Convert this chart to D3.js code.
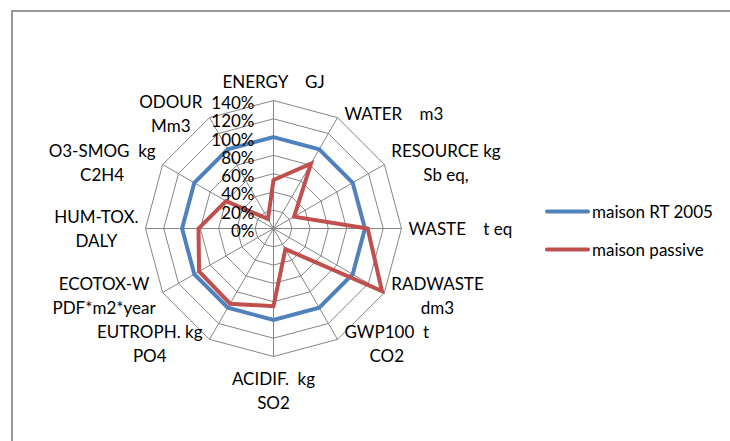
<!DOCTYPE html>
<html>
<head>
<meta charset="utf-8">
<script src="https://cdn.jsdelivr.net/npm/d3@7"></script>
<style>
  html, body { margin: 0; padding: 0; background: #fff; }
  svg text { font-family: Lato, "Open Sans", sans-serif; fill: #000; white-space: pre; }
</style>
</head>
<body>
<div id="chart"></div>
<script>
// axis labels, clockwise from the top (each entry = wrapped lines)
const axes = [
  ["ENERGY    GJ"],
  ["WATER    m3"],
  ["RESOURCE kg", "Sb eq,"],
  ["WASTE    t eq"],
  ["RADWASTE", "dm3"],
  ["GWP100  t", "CO2"],
  ["ACIDIF.  kg", "SO2"],
  ["EUTROPH. kg", "PO4"],
  ["ECOTOX-W", "PDF*m2*year"],
  ["HUM-TOX.", "DALY"],
  ["O3-SMOG  kg", "C2H4"],
  ["ODOUR", "Mm3"]
];
const rt2005 = [1.00, 1.00, 1.00, 1.00, 1.00, 1.00, 1.00, 1.00, 1.00, 1.00, 1.00, 1.00];
const passive = [0.53, 0.82, 0.26, 1.03, 1.37, 0.26, 0.85, 0.95, 0.94, 0.82, 0.60, 0.12];
const ticks = [0, 0.2, 0.4, 0.6, 0.8, 1.0, 1.2, 1.4];
const seriesNames = ["maison RT 2005", "maison passive"];
const seriesColors = ["#4f81bd", "#c0504d"];

const W = 730, H = 441;
const cx = 273.5, cy = 228.5;
const fontSize = 17;
const lineH = 24;

const svg = d3.select("#chart").append("svg")
  .attr("width", W)
  .attr("height", H);

// outer chart frame
svg.append("rect")
  .attr("x", 12).attr("y", 11)
  .attr("width", W).attr("height", H)
  .attr("fill", "#fff")
  .attr("stroke", "#999")
  .attr("stroke-width", 2);

const r = d3.scaleLinear().domain([0, 1.4]).range([0, 128]);
const angle = d3.scaleLinear().domain([0, axes.length]).range([0, 2 * Math.PI]);

const pt = (i, v) => [cx + r(v) * Math.sin(angle(i)), cy - r(v) * Math.cos(angle(i))];

const g = svg.append("g");

// --- grid rings + spokes ---
ticks.slice(1).forEach(t => {
  g.append("polygon")
    .attr("points", axes.map((a, i) => pt(i, t).join(",")).join(" "))
    .attr("fill", "none")
    .attr("stroke", "#868686")
    .attr("stroke-width", 1);
});

axes.forEach((a, i) => {
  const [x2, y2] = pt(i, d3.max(ticks));
  g.append("line")
    .attr("x1", cx).attr("y1", cy)
    .attr("x2", x2).attr("y2", y2)
    .attr("stroke", "#868686")
    .attr("stroke-width", 1);
});

// --- series ---
const line = d3.lineRadial()
  .angle((d, i) => angle(i))
  .radius(d => r(d))
  .curve(d3.curveLinearClosed);

[rt2005, passive].forEach((vals, k) => {
  g.append("path")
    .datum(vals)
    .attr("transform", `translate(${cx},${cy})`)
    .attr("d", line)
    .attr("fill", "none")
    .attr("stroke", seriesColors[k])
    .attr("stroke-width", 4)
    .attr("stroke-linejoin", "miter");
});

// --- tick labels (along the top spoke, left side) ---
ticks.forEach(t => {
  g.append("text")
    .attr("x", cx - 19)
    .attr("y", cy - r(t) + 2)
    .attr("text-anchor", "end")
    .attr("dominant-baseline", "central")
    .style("font-size", fontSize + "px")
    .text(d3.format(".0%")(t));
});

// --- category labels ---
axes.forEach((lines, i) => {
  const a = angle(i);
  const s = Math.sin(a), c = Math.cos(a);
  const [ex, ey] = pt(i, d3.max(ticks));
  const lab = g.append("g");
  const texts = lines.map(l => lab.append("text")
    .style("font-size", fontSize + "px")
    .attr("text-anchor", "middle")
    .attr("dominant-baseline", "central")
    .text(l));
  const bw = d3.max(texts, t => t.node().getComputedTextLength());
  const bh = lines.length * lineH;

  let bx, by; // block centre
  if (Math.abs(s) < 0.01) {
    bx = ex;
    by = c > 0 ? ey - 19 - (bh - lineH) : ey + 21.5 + (bh - lineH) / 2;
    if (c > 0) by = ey - 19 - (bh - lineH) / 2;
  } else {
    bx = s > 0 ? ex + 7 + bw / 2 : ex - 7 - bw / 2;
    by = ey - c * 5;
  }
  texts.forEach((t, j) => t
    .attr("x", bx)
    .attr("y", by - bh / 2 + lineH / 2 + j * lineH));
});

// --- legend ---
const legend = svg.append("g");
seriesNames.forEach((name, k) => {
  const y = 211.5 + k * 38;
  legend.append("line")
    .attr("x1", 547).attr("x2", 588)
    .attr("y1", y).attr("y2", y)
    .attr("stroke", seriesColors[k])
    .attr("stroke-width", 4)
    .attr("stroke-linecap", "round");
  legend.append("text")
    .attr("x", 592).attr("y", y)
    .attr("dominant-baseline", "central")
    .style("font-size", fontSize + "px")
    .text(name);
});
</script>
</body>
</html>
